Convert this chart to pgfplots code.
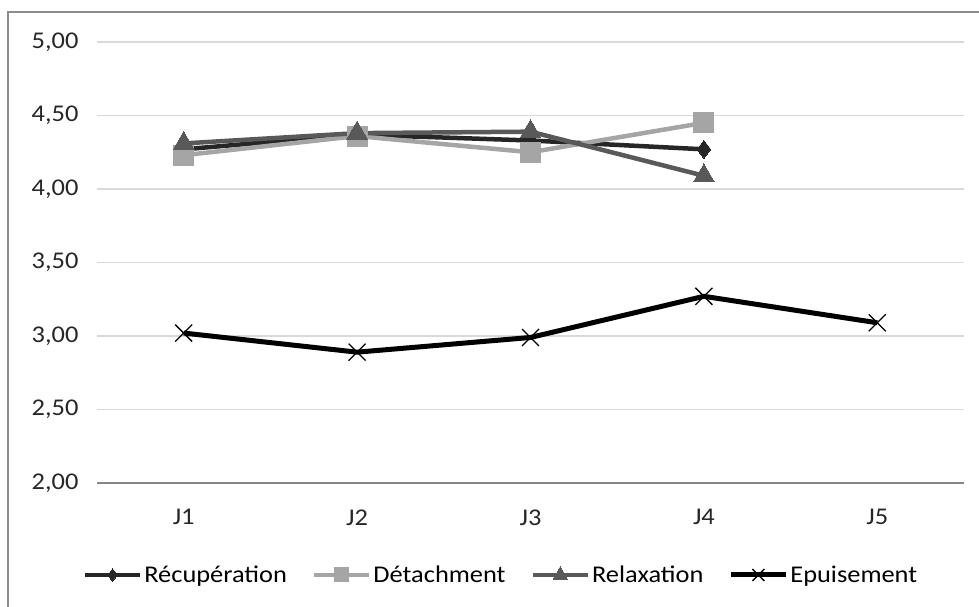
\documentclass[border=0pt]{standalone}
\usepackage{fontspec}
\setmainfont[FakeStretch=1.1]{Carlito}
\usepackage{pgfplots}
\pgfplotsset{compat=1.18}

\definecolor{recup}{HTML}{262626}
\definecolor{detach}{HTML}{A5A5A5}
\definecolor{relax}{HTML}{595959}
\definecolor{gridc}{HTML}{D9D9D9}
\definecolor{axisc}{HTML}{868686}
\definecolor{framec}{HTML}{8C8C8C}

\begin{document}
\begin{tikzpicture}
\useasboundingbox (0,0) rectangle (979pt,607pt);
\begin{axis}[
  at={(97pt,124pt)}, anchor=south west,
  scale only axis,
  width=867pt, height=441pt,
  xmin=0.5, xmax=5.5,
  ymin=2, ymax=5,
  xtick={1,2,3,4,5},
  xticklabels={J1,J2,J3,J4,J5},
  ytick={2,2.5,3,3.5,4,4.5,5},
  yticklabel style={/pgf/number format/fixed, /pgf/number format/fixed zerofill,
    /pgf/number format/precision=2, /pgf/number format/use comma, xshift=-15pt},
  /pgf/number format/assume math mode=true,
  major tick length=0pt,
  axis x line*=bottom,
  axis y line*=left,
  y axis line style={draw=none},
  x axis line style={draw=axisc, line width=1.5pt, -},
  ymajorgrids,
  grid style={draw=gridc, line width=1.2pt},
  tick label style={font=\fontsize{24}{28}\selectfont, text=recup},
  xticklabel style={yshift=-23pt},
  clip=false,
  legend columns=4,
  legend style={
    at={(0.466,-0.2086)}, anchor=center,
    draw=none, fill=none,
    font=\fontsize{24}{28}\selectfont,
    nodes={inner sep=2pt},
    /tikz/every even column/.append style={column sep=23pt},
    inner sep=0pt,
  },
  legend cell align=left,
  legend image code/.code={
    \draw[mark repeat=2, mark phase=2, #1, every mark/.append style={scale=0.7}]
      plot coordinates {(0pt,0pt) (27.5pt,0pt) (55pt,0pt)};
  },
]
\addplot[color=recup, line width=4.5pt, mark=diamond*, mark size=9pt,
  mark options={solid, fill=recup, draw=recup, line width=0pt}]
  coordinates {(1,4.27) (2,4.37) (3,4.33) (4,4.27)};
\addplot[color=detach, line width=4.5pt, mark=square*, mark size=10pt,
  mark options={solid, fill=detach, draw=detach, line width=0pt}]
  coordinates {(1,4.23) (2,4.36) (3,4.25) (4,4.45)};
\addplot[color=relax, line width=4.5pt, mark=triangle*, mark size=12pt,
  mark options={solid, fill=relax, draw=relax, line width=0pt}]
  coordinates {(1,4.31) (2,4.38) (3,4.39) (4,4.09)};
\addplot[color=black, line width=5pt, mark=x, mark size=12pt,
  mark options={solid, draw=black, line width=1.3pt}]
  coordinates {(1,3.02) (2,2.89) (3,2.99) (4,3.27) (5,3.09)};
\legend{Récupération, Détachment, Relaxation, Epuisement}
\end{axis}
\draw[framec, line width=2pt] (8pt,0pt) -- (8pt,595pt) -- (979pt,595pt);
\end{tikzpicture}
\end{document}
